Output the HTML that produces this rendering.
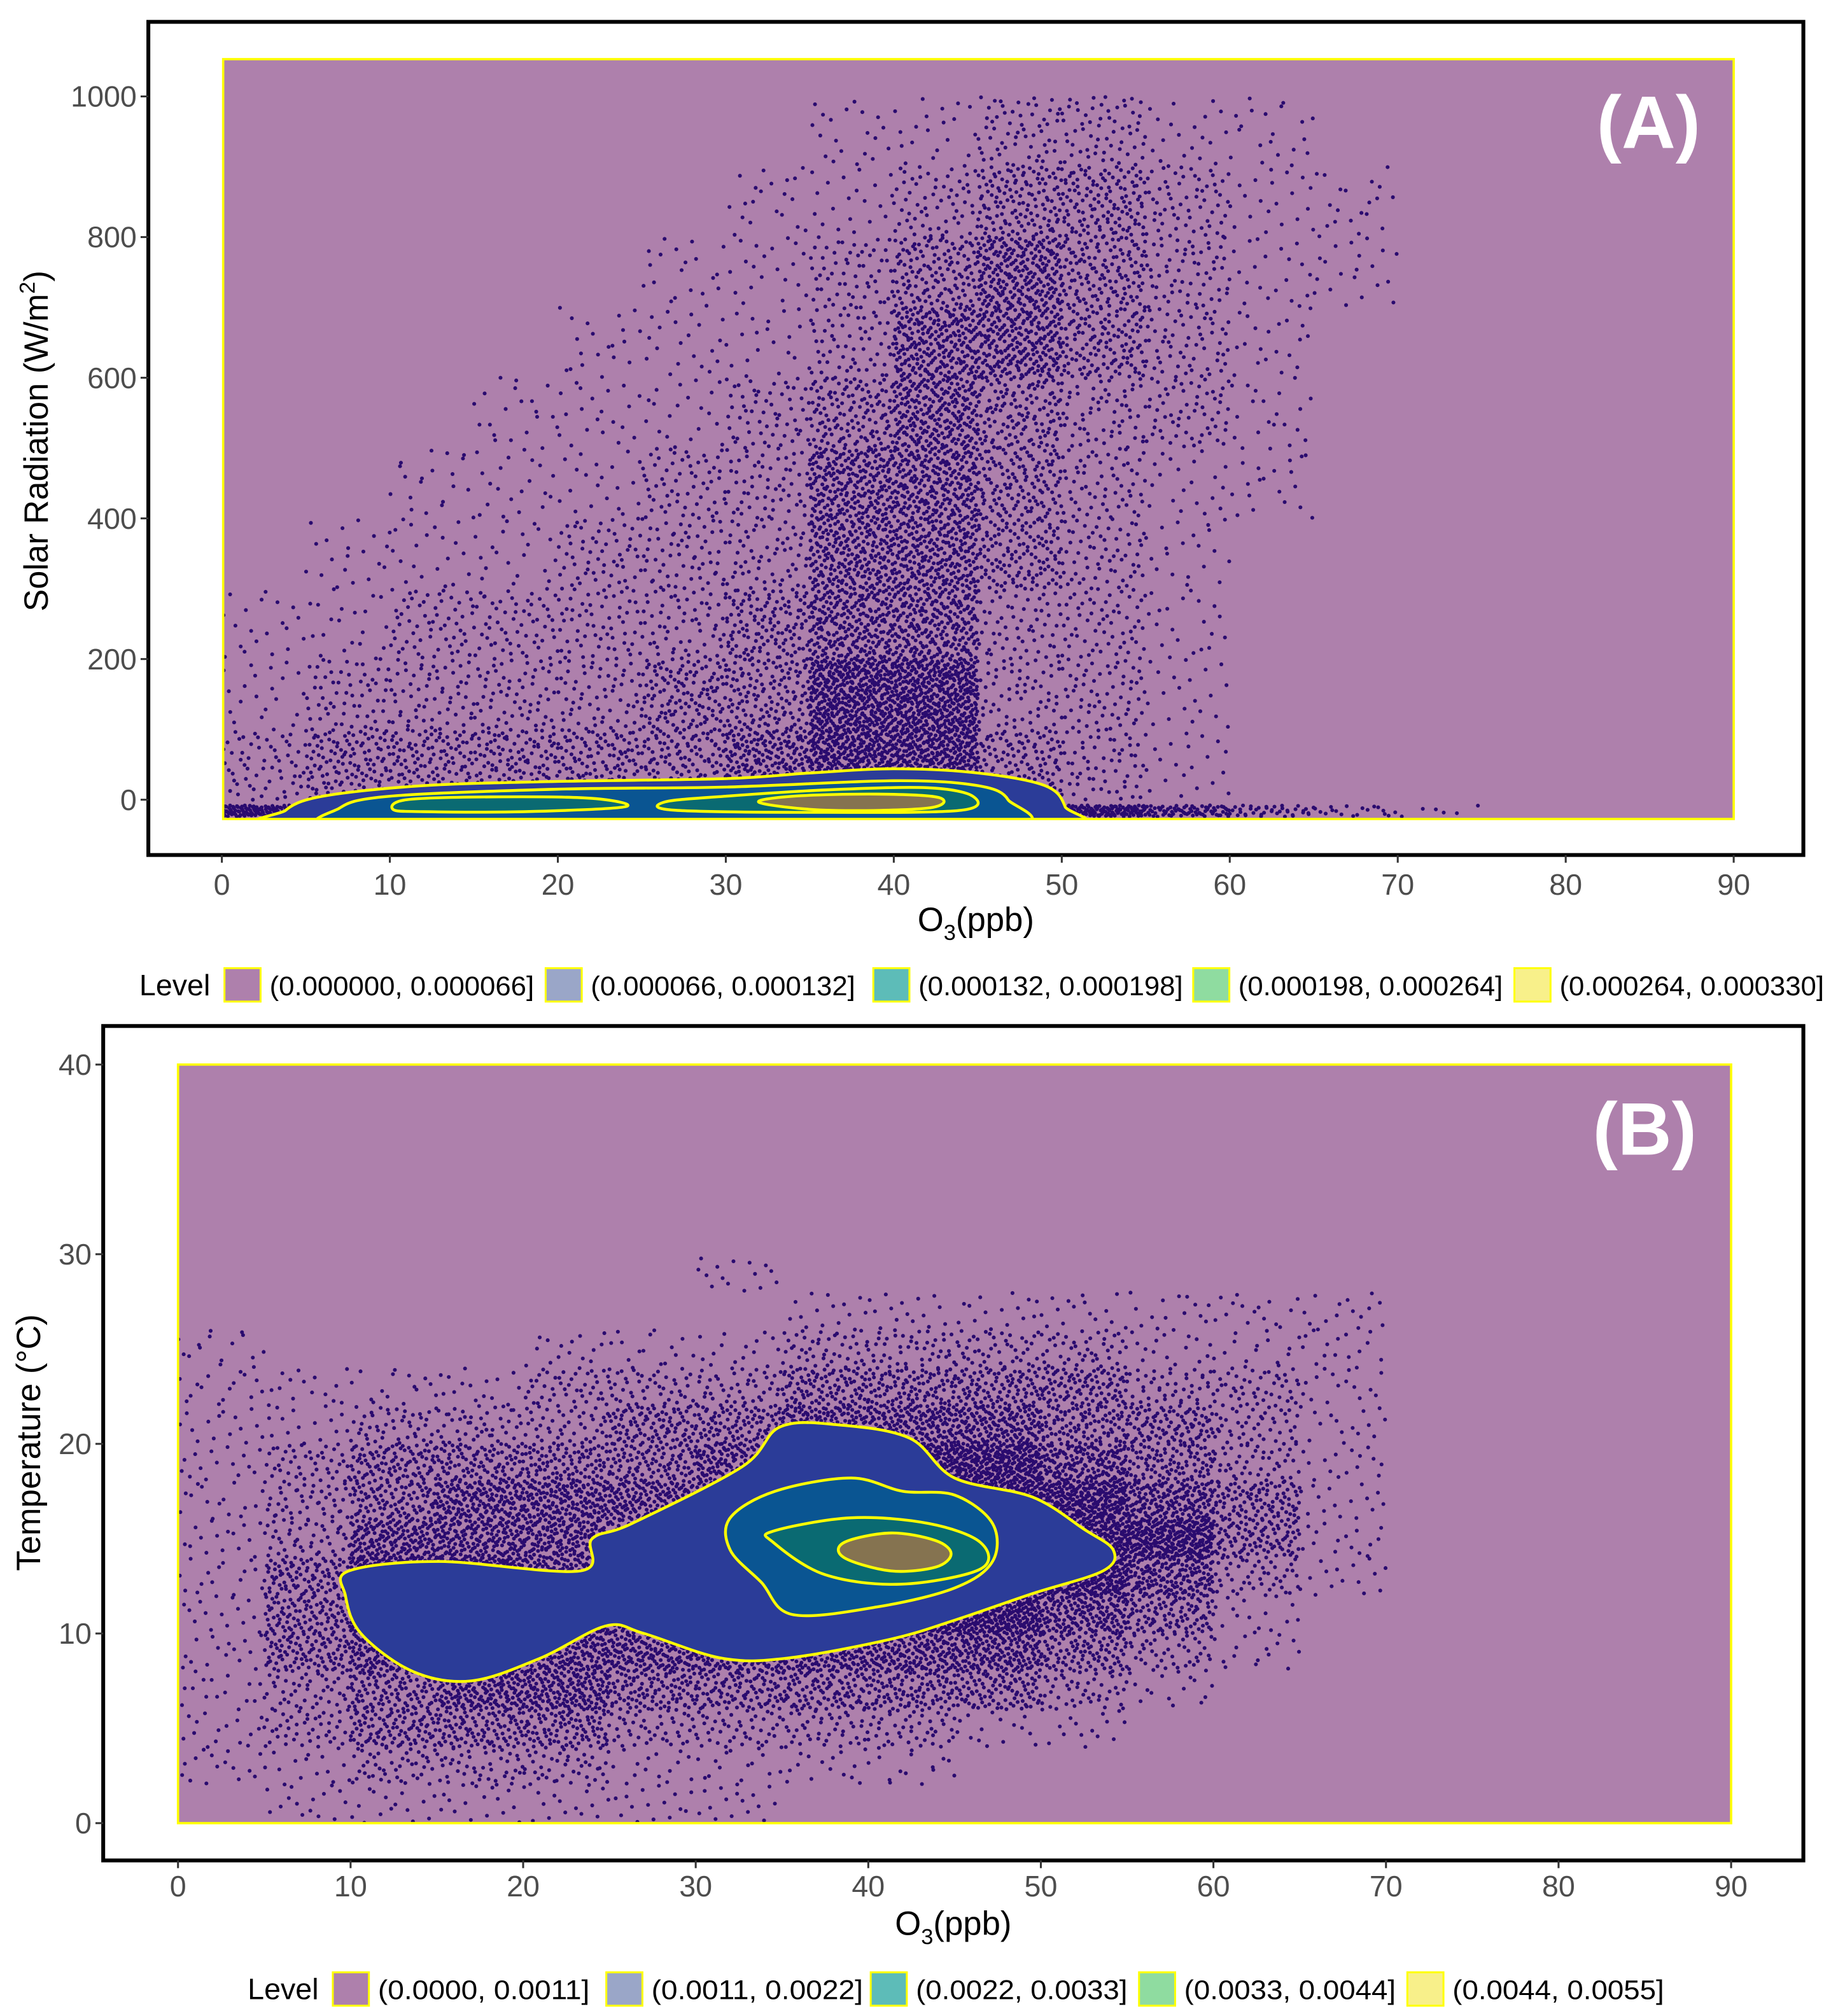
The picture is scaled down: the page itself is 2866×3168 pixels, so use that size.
<!DOCTYPE html>
<html><head><meta charset="utf-8"><style>
html,body{margin:0;padding:0;background:#fff;}
svg{display:block;}
text{font-family:"Liberation Sans",sans-serif;}
</style></head><body>
<svg id="chart" width="2866" height="3168" viewBox="0 0 1414 1568" preserveAspectRatio="none" xmlns="http://www.w3.org/2000/svg">
<rect width="1414" height="1568" fill="#fff"/>
<g id="panelA"></g>
<g id="panelB"></g>
</svg>
<script>
// ---------- data ----------
const xTicks=[0,10,20,30,40,50,60,70,80,90];
const yTicksA=[0,200,400,600,800,1000];
const yTicksB=[0,10,20,30,40];
const binX=[0,5,10,15,20,25,30,35,40,45,50,55,60,65,70,75,80,85];
// Panel A density (rows: lower bound of W/m2 bin, width 100)
const rowsA=[900,800,700,600,500,400,300,200,100,0];
const densA=[
[0,0,0,0,0,0,0,1,1,2,2,1,1,0,0,0,0,0],
[0,0,0,0,0,0,1,1,2,3,3,2,1,1,0,0,0,0],
[0,0,0,0,0,1,1,2,3,4,3,2,1,1,0,0,0,0],
[0,0,0,0,1,1,1,2,4,4,3,2,1,0,0,0,0,0],
[0,0,0,1,1,1,2,3,4,3,2,2,1,0,0,0,0,0],
[0,0,1,1,1,2,2,4,4,3,2,1,1,0,0,0,0,0],
[0,1,1,1,2,2,2,4,4,3,2,1,0,0,0,0,0,0],
[1,1,2,2,2,2,3,4,4,2,2,1,0,0,0,0,0,0],
[1,2,2,2,2,3,3,5,5,2,2,1,0,0,0,0,0,0],
[2,3,3,3,3,3,4,5,5,3,2,1,0,0,0,0,0,0]];
const bandA=[5,5,5,5,5,5,5,5,5,5,5,4,3,2,1,0,0,0];
// Panel B density (rows: lower bound °C, width 2)
const rowsB=[28,26,24,22,20,18,16,14,12,10,8,6,4,2,0];
const densB=[
[0,0,0,0,0,0,1,0,0,0,0,0,0,0,0,0,0,0],
[0,0,0,0,0,0,0,1,1,1,1,1,1,1,0,0,0,0],
[1,0,0,0,1,1,1,2,2,2,2,1,1,1,0,0,0,0],
[1,1,1,1,2,2,2,3,3,3,3,2,2,1,0,0,0,0],
[1,1,2,2,2,3,3,4,4,4,3,3,2,1,0,0,0,0],
[1,2,3,3,3,3,4,4,5,5,4,3,2,1,0,0,0,0],
[1,2,3,4,4,4,4,5,5,5,5,4,3,1,0,0,0,0],
[1,2,4,4,4,4,4,5,5,5,5,5,3,1,0,0,0,0],
[1,3,5,5,4,4,4,5,5,5,5,4,2,1,0,0,0,0],
[1,3,5,5,5,4,5,5,5,5,4,3,1,0,0,0,0,0],
[1,3,4,4,4,4,4,4,4,4,3,2,1,0,0,0,0,0],
[1,2,3,4,4,3,3,3,3,3,2,1,0,0,0,0,0,0],
[1,2,3,3,3,2,2,2,2,1,1,0,0,0,0,0,0,0],
[1,1,2,2,2,1,1,1,1,0,0,0,0,0,0,0,0,0],
[0,1,1,1,1,1,1,0,0,0,0,0,0,0,0,0,0,0]];
// Contours (x ppb, y value)
const contA1=[[3.8,-40],[3.8,-15],[6,5],[12,20],[20,26],[30,30],[35,38],[40,44],[45,38],[49,20],[50.2,-10],[50,-40],[30,-45]];
const contA2=[[7,-40],[7,-12],[10,5],[20,15],[30,18],[40,27],[45,20],[46.8,0],[46.5,-40],[25,-45]];
const contA3a=[[10.2,-14],[11,0],[16,4],[22,2],[24,-10],[18,-17],[12,-17]];
const contA3b=[[26.4,-3],[30,5],[36,14],[42,17],[44.7,5],[44,-15],[36,-18],[27,-15]];
const contA4=[[32,-4],[34,5],[39,8],[42.7,3],[42,-12],[36,-15]];
const contB1=[[9.9,13.3],[15.1,13.8],[23.3,13.3],[24,15],[26.3,15.8],[32.7,18.8],[34.9,20.9],[38.3,21],[42.4,20.3],[45,18.2],[49.5,17.2],[52.5,15.5],[54.2,14.4],[53.6,13.3],[49.5,12.1],[45,10.7],[41.3,9.7],[35.3,8.7],[31.5,8.7],[27,10],[24.8,10.4],[21,8.7],[17,7.5],[13.6,8],[10.6,10],[9.7,12]];
const contB2=[[32,16.1],[34.6,17.5],[39,18.2],[42,17.5],[45,17.3],[47.2,15.8],[47.2,13.8],[45,12.4],[40.5,11.4],[35.6,11],[33.8,12.7],[32,14.4]];
const contB3=[[34.5,15.4],[39,16.1],[43.5,15.8],[46.5,14.8],[46.5,13.4],[41.9,12.6],[37.5,13.1],[34.5,14.8]];
const contB4=[[38.6,14.8],[41.3,15.3],[43.9,14.9],[44.8,14.2],[43.9,13.5],[41.3,13.3],[38.6,14]];
const legendA=["(0.000000, 0.000066]","(0.000066, 0.000132]","(0.000132, 0.000198]","(0.000198, 0.000264]","(0.000264, 0.000330]"];
const legendB=["(0.0000, 0.0011]","(0.0011, 0.0022]","(0.0022, 0.0033]","(0.0033, 0.0044]","(0.0044, 0.0055]"];
const legendColors=["#ae80ac","#9aa6c8","#5dbcb8","#8fdca0","#f8f08a"];
// ---------- drawing ----------
const NS="http://www.w3.org/2000/svg";
function mk(tag,attrs,parent){const e=document.createElementNS(NS,tag);for(const k in attrs)e.setAttribute(k,attrs[k]);parent.appendChild(e);return e;}
function halton(i,b){let f=1,r=0;while(i>0){f/=b;r+=f*(i%b);i=Math.floor(i/b);}return r;}
function smoothPath(pts,sx,sy){
  const p=pts.map(q=>[sx(q[0]),sy(q[1])]);const n=p.length;let d=`M${p[0][0]},${p[0][1]}`;
  for(let i=0;i<n;i++){const p0=p[(i-1+n)%n],p1=p[i],p2=p[(i+1)%n],p3=p[(i+2)%n];
    d+=`C${p1[0]+(p2[0]-p0[0])/6},${p1[1]+(p2[1]-p0[1])/6} ${p2[0]-(p3[0]-p1[0])/6},${p2[1]-(p3[1]-p1[1])/6} ${p2[0]},${p2[1]}`;}
  return d+"Z";}

function panel(cfg){
  const g=document.getElementById(cfg.id);
  const sx=v=>cfg.px0+(v-0)/90*(cfg.px1-cfg.px0);
  const sy=v=>cfg.py0-(v-cfg.yv0)/(cfg.yv1-cfg.yv0)*(cfg.py0-cfg.py1);
  const fr=mk('rect',{x:cfg.fx,y:cfg.fy,width:cfg.fw,height:cfg.fh,fill:'#fff',stroke:'#000','stroke-width':3},g);
  
  
  const cp=mk('clipPath',{id:cfg.id+'clip'},g);
  mk('rect',{x:cfg.bx0,y:cfg.by0,width:cfg.bx1-cfg.bx0,height:cfg.by1-cfg.by0},cp);
  const bg=mk('rect',{x:cfg.bx0,y:cfg.by0,width:cfg.bx1-cfg.bx0,height:cfg.by1-cfg.by0,fill:'#ae80ac'},g);
  
  
  const dots=mk('g',{fill:'#2a0b6f','clip-path':`url(#${cfg.id}clip)`},g);
  
  
  let idx=1;
  function cells(rows,dens,step,counts){
    rows.forEach((y0,ri)=>{dens[ri].forEach((lv,ci)=>{
      const n=counts[lv];const x0=binX[ci];
      for(let k=0;k<n;k++){idx++;
        const xv=x0+5*halton(idx,2),yv=y0+step*halton(idx,3);
        if(xv>90)continue;
        const c=mk('circle',{cx:sx(xv).toFixed(1),cy:sy(yv).toFixed(1),r:1.5},dots);
        
        
      }});});
  }
  cells(cfg.rows,cfg.dens,cfg.step,cfg.counts);
  if(cfg.band){cells([cfg.bandY],[cfg.band],cfg.bandH,cfg.counts.map(c=>Math.round(c*0.3)));}
  const cg=mk('g',{'clip-path':`url(#${cfg.id}clip)`},g);
  cfg.conts.forEach(([pts,fill],i)=>{
    const p=mk('path',{d:smoothPath(pts,sx,sy),fill:fill,stroke:'#ffff00','stroke-width':2.2},cg);
    
    
  });
  mk('rect',{x:cfg.bx0,y:cfg.by0,width:cfg.bx1-cfg.bx0,height:cfg.by1-cfg.by0,fill:'none',stroke:'#ffff00','stroke-width':1.8},g);
  // axes
  xTicks.forEach(t=>{
    const l=mk('line',{x1:sx(t),x2:sx(t),y1:cfg.fy+cfg.fh,y2:cfg.fy+cfg.fh+6,stroke:'#333','stroke-width':1.5},g);
    
    
    const tx=mk('text',{x:sx(t),y:cfg.xlabY,'text-anchor':'middle','font-size':23,fill:'#4d4d4d'},g);tx.textContent=t;
    
    
  });
  cfg.yTicks.forEach(t=>{
    const l=mk('line',{x1:cfg.fx-6,x2:cfg.fx,y1:sy(t),y2:sy(t),stroke:'#333','stroke-width':1.5},g);
    
    
    const tx=mk('text',{x:cfg.fx-9,y:sy(t)+8,'text-anchor':'end','font-size':23,fill:'#4d4d4d'},g);tx.textContent=t;
    
    
  });
  const xt=mk('text',{x:(cfg.fx+cfg.fx+cfg.fw)/2,y:cfg.xtitleY,'text-anchor':'middle','font-size':26,fill:'#000'},g);
  xt.innerHTML='O<tspan font-size="17" dy="7">3</tspan><tspan dy="-7">(ppb)</tspan>';
  
  
  const yt=mk('text',{x:0,y:0,'text-anchor':'middle','font-size':26,fill:'#000',transform:`translate(${cfg.ytitleX},${cfg.ytitleY}) rotate(-90)`},g);
  yt.innerHTML=cfg.ytitle;
  
  
  const pl=mk('text',{x:cfg.plX,y:cfg.plY,'text-anchor':'middle','font-size':58,'font-weight':'bold',fill:'#fff'},g);
  pl.textContent=cfg.label;
  
  
  // legend
  const lg=mk('g',{},g);
  
  
  const lt=mk('text',{x:cfg.legX,y:cfg.legY+8,'font-size':23,fill:'#000'},lg);lt.textContent='Level';
  
  
  cfg.legText.forEach((s,i)=>{
    const bx=cfg.legBoxes[i];
    const r=mk('rect',{x:bx,y:cfg.legY-13,width:28,height:26,fill:legendColors[i],stroke:'#ffff00','stroke-width':1.5},lg);
    
    
    const t=mk('text',{x:bx+35,y:cfg.legY+8,'font-size':21,fill:'#000',textLength:cfg.legLen,lengthAdjust:'spacingAndGlyphs'},lg);t.textContent=s;
    
    
  });
}
panel({id:'panelA',px0:172,px1:1344,py0:622,py1:75,yv0:0,yv1:1000,
  fx:115,fy:17,fw:1283,fh:648,bx0:173,bx1:1344,by0:46,by1:637,
  rows:rowsA,dens:densA,step:100,counts:[0,20,60,130,240,420],band:bandA,bandY:-24,bandH:16,
  conts:[[contA1,'#2b3c98'],[contA2,'#0a5592'],[contA3a,'#0a6a72'],[contA3b,'#0a6a72'],[contA4,'#857350']],
  yTicks:yTicksA,xlabY:696,xtitleY:724,ytitleX:37,ytitleY:343,
  ytitle:'Solar Radiation (W/m<tspan font-size="17" dy="-10">2</tspan><tspan dy="10">)</tspan>',
  label:'(A)',plX:1278,plY:115,legText:legendA,legLen:205,legX:108,legY:766,legBoxes:[174,423,677,925,1174]});
panel({id:'panelB',px0:138,px1:1342,py0:1418,py1:828,yv0:0,yv1:40,
  fx:80,fy:798,fw:1318,fh:649,bx0:138,bx1:1342,by0:828,by1:1418,
  rows:rowsB,dens:densB,step:2,counts:[0,15,45,100,170,280],
  conts:[[contB1,'#2b3c98'],[contB2,'#0a5592'],[contB3,'#0a6a72'],[contB4,'#857350']],
  yTicks:yTicksB,xlabY:1475,xtitleY:1505,ytitleX:31,ytitleY:1122,
  ytitle:'Temperature (°C)',
  label:'(B)',plX:1275,plY:898,legText:legendB,legLen:164,legX:192,legY:1547,legBoxes:[258,470,675,883,1091]});
</script>
</body></html>
